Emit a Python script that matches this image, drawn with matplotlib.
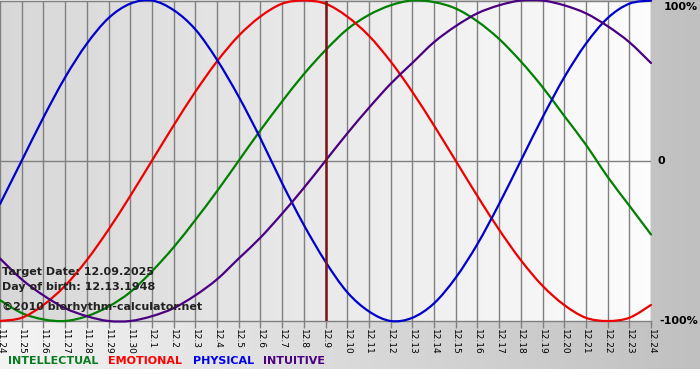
import matplotlib
matplotlib.use("Agg")
import matplotlib.pyplot as plt
from matplotlib.path import Path
from matplotlib.patches import PathPatch
import numpy as np

dates = ["11.24", "11.25", "11.26", "11.27", "11.28", "11.29", "11.30",
         "12.1", "12.2", "12.3", "12.4", "12.5", "12.6", "12.7", "12.8", "12.9",
         "12.10", "12.11", "12.12", "12.13", "12.14", "12.15", "12.16", "12.17",
         "12.18", "12.19", "12.20", "12.21", "12.22", "12.23", "12.24"]

physical = [-0.27, 0.00, 0.27, 0.52, 0.73, 0.89, 0.98, 1.00, 0.94, 0.82, 0.63,
            0.40, 0.14, -0.14, -0.40, -0.63, -0.82, -0.94, -1.00, -0.98, -0.89,
            -0.73, -0.52, -0.27, 0.00, 0.27, 0.52, 0.73, 0.89, 0.98, 1.00]
emotional = [-1.00, -0.98, -0.90, -0.78, -0.62, -0.43, -0.22, 0.00, 0.22, 0.43,
             0.62, 0.78, 0.90, 0.98, 1.00, 0.98, 0.90, 0.78, 0.62, 0.43, 0.22,
             0.00, -0.22, -0.43, -0.62, -0.78, -0.90, -0.98, -1.00, -0.98, -0.90]
intellectual = [-0.87, -0.95, -0.99, -1.00, -0.97, -0.91, -0.82, -0.69, -0.54,
                -0.37, -0.19, 0.00, 0.19, 0.37, 0.54, 0.69, 0.82, 0.91, 0.97,
                1.00, 0.99, 0.95, 0.87, 0.76, 0.62, 0.46, 0.28, 0.10, -0.10,
                -0.28, -0.46]
intuitive = [-0.61, -0.74, -0.84, -0.92, -0.97, -1.00, -1.00, -0.97, -0.92,
             -0.84, -0.74, -0.61, -0.48, -0.33, -0.17, 0.00, 0.17, 0.33, 0.48,
             0.61, 0.74, 0.84, 0.92, 0.97, 1.00, 1.00, 0.97, 0.92, 0.84, 0.74,
             0.61]
target_index = 15

series = [
    ("INTELLECTUAL", intellectual, "#008000", "#0a7a1e"),
    ("EMOTIONAL", emotional, "#ee0000", "#ff0000"),
    ("PHYSICAL", physical, "#0000cc", "#0000ee"),
    ("INTUITIVE", intuitive, "#4b0082", "#4b0082"),
]


def smooth_path(xs, ys):
    """Catmull-Rom spline through the data points, as cubic Bezier segments."""
    pts = np.column_stack([xs, ys]).astype(float)
    n = len(pts)
    verts = [pts[0]]
    codes = [Path.MOVETO]
    for i in range(n - 1):
        p0 = pts[i - 1] if i > 0 else pts[i]
        p1 = pts[i]
        p2 = pts[i + 1]
        p3 = pts[i + 2] if i + 2 < n else pts[i + 1]
        c1 = p1 + (p2 - p0) / 6.0
        c2 = p2 - (p3 - p1) / 6.0
        verts += [c1, c2, p2]
        codes += [Path.CURVE4] * 3
    return Path(verts, codes)


W, H = 700, 380
fig = plt.figure(figsize=(W / 100, H / 100), dpi=100)
fig.patch.set_facecolor("white")

# figure background gradient (upper part)
bg = fig.add_axes([0, 1 - 369 / H, 1, 369 / H], zorder=0)
grad = np.linspace(0.955, 0.753, 256)[None, :]
bg.imshow(np.dstack([grad, grad, grad]), aspect="auto", extent=[0, 1, 0, 1])
bg.set_axis_off()

x = np.arange(len(dates))
ax = fig.add_axes([0, 1 - 321 / H, 651 / W, 321 / H - 0.5 / H], zorder=1)
ax.set_xlim(0, len(dates) - 1)
ax.set_ylim(-1, 1)
pg = np.linspace(0.845, 0.99, 256)[None, :]
ax.imshow(np.dstack([pg, pg, pg]), aspect="auto",
          extent=[0, len(dates) - 1, -1, 1], zorder=0)

for xi in x:
    ax.axvline(xi, color="#808080", lw=1.0, zorder=1)
ax.axhline(0, color="#808080", lw=1.0, zorder=1)

for name, vals, col, _ in series:
    patch = PathPatch(smooth_path(x, vals), facecolor="none", edgecolor=col,
                      lw=1.6, zorder=3, clip_on=False, capstyle="round",
                      joinstyle="round")
    ax.add_patch(patch)

ax.axvline(target_index, color="#7a1414", lw=1.8, zorder=4)

for s in ax.spines.values():
    s.set_color("#808080")
    s.set_linewidth(1.0)
ax.spines["left"].set_visible(False)
ax.spines["right"].set_visible(False)

ax.set_xticks(x)
ax.set_xticklabels(dates, rotation=270, fontsize=6.5, color="black")
ax.tick_params(axis="x", length=5, width=1, color="#808080", pad=1)
ax.set_yticks([])

# right side labels
for py, txt in [(7, "100%"), (161, "0"), (321, "-100%")]:
    fig.text(700 / W - 2 / W if txt != "0" else 657 / W, 1 - py / H, txt,
             ha="right" if txt != "0" else "left", va="center",
             fontsize=8, fontweight="bold", color="black")

# info texts
for py, txt in [(272, "Target Date: 12.09.2025"),
                (287, "Day of birth: 12.13.1948"),
                (307, "\u00a92010 biorhythm-calculator.net")]:
    fig.text(2 / W, 1 - py / H, txt, ha="left", va="center",
             fontsize=8, fontweight="bold", color="#222222", zorder=5)

# legend
for (name, _, _, lcol), px in zip(series, [8, 108, 193, 263]):
    fig.text(px / W, 1 - 361 / H, name, ha="left", va="center",
             fontsize=8, fontweight="bold", color=lcol)

fig.savefig("out.png", dpi=100)
